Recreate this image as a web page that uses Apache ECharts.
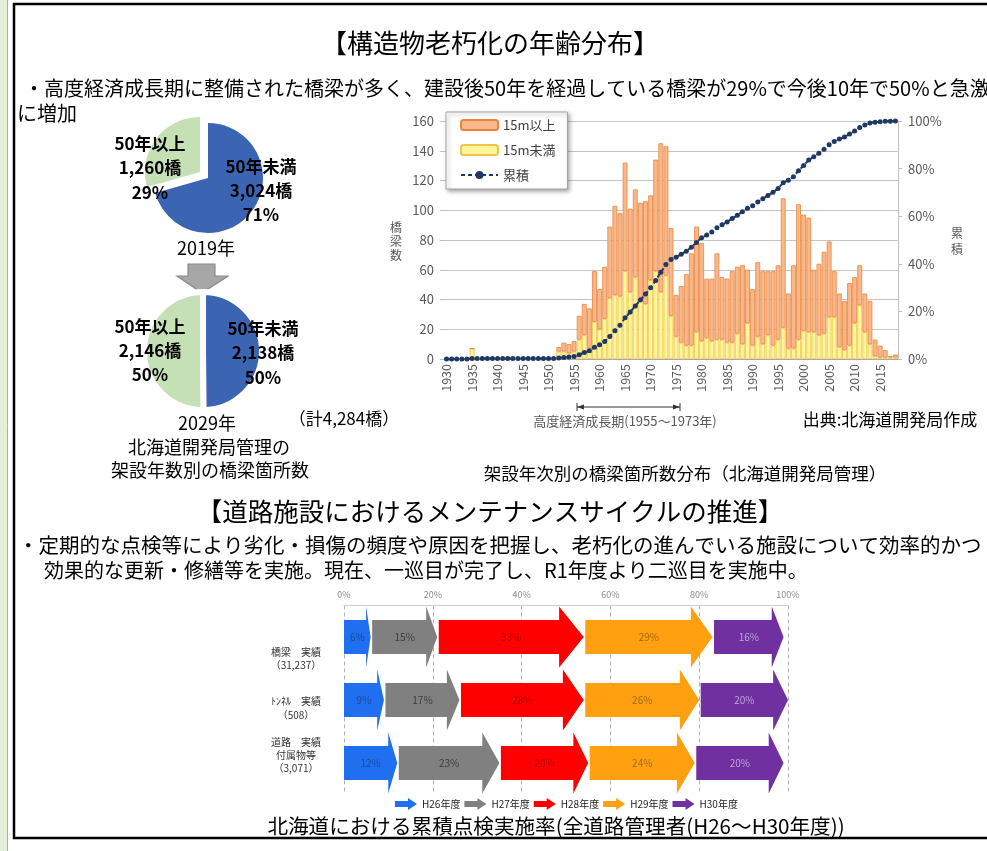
<!DOCTYPE html>
<html><head><meta charset="utf-8">
<script src="https://cdn.jsdelivr.net/npm/echarts@6/dist/echarts.min.js"></script>
<style>html,body{margin:0;padding:0;background:#fff}#c{width:987px;height:851px}</style>
</head><body><div id="c"></div><script>
// ---------- data: bridge construction years ----------
const years = ['1930','1931','1932','1933','1934','1935','1936','1937','1938','1939','1940','1941','1942','1943','1944','1945','1946','1947','1948','1949','1950','1951','1952','1953','1954','1955','1956','1957','1958','1959','1960','1961','1962','1963','1964','1965','1966','1967','1968','1969','1970','1971','1972','1973','1974','1975','1976','1977','1978','1979','1980','1981','1982','1983','1984','1985','1986','1987','1988','1989','1990','1991','1992','1993','1994','1995','1996','1997','1998','1999','2000','2001','2002','2003','2004','2005','2006','2007','2008','2009','2010','2011','2012','2013','2014','2015','2016','2017','2018'];
// 15m未満 (yellow)
const under15 = [0,0,0,0,0,7,0,0,0,0, 0,0,0,0,0,0,0,0,0,0, 0,0,5,5,4,5,13,16,7,25, 20,27,41,43,42,59,45,55,41,37, 53,59,45,56,29,15,11,9,9,18, 12,14,12,13,13,11,11,17,10,24, 9,15,10,16,9,13,21,7,7,13, 19,18,18,16,17,28,28,8,6,9, 24,36,18,10,2,1,1,1,1];
// 15m以上 (orange)
const over15 = [0,0,0,0,0,0,0,0,0,0, 0,0,0,0,0,0,0,0,0,0, 0,0,3,6,6,7,16,21,27,34, 27,35,48,60,56,73,56,59,64,69, 57,75,100,87,59,28,38,48,62,71, 66,40,42,58,42,43,48,45,53,36, 38,50,49,43,50,50,87,37,56,91, 78,77,42,48,55,51,31,36,33,42, 31,27,26,29,11,8,5,1,2];
// 累積 (%)
const cumulative = [0,0,0,0,0,0.2,0.2,0.2,0.2,0.2, 0.2,0.2,0.2,0.2,0.2,0.2,0.2,0.2,0.2,0.2, 0.2,0.2,0.4,0.6,0.8,1.1,1.8,2.7,3.5,4.9, 6.0,7.4,9.5,11.9,14.2,17.3,19.7,22.3,24.8,27.3, 29.9,33.0,36.4,39.7,41.8,42.8,44.0,45.3,47.0,49.0, 50.9,52.1,53.4,55.1,56.4,57.6,59.0,60.4,61.9,63.3, 64.4,66.0,67.3,68.7,70.1,71.6,74.1,75.1,76.6,79.1, 81.3,83.6,85.0,86.5,88.1,90.0,91.4,92.4,93.3,94.5, 95.8,97.3,98.3,99.2,99.5,99.7,99.9,99.9,100];

// ---------- data: pies ----------
const pieLabels = ['50年未満','50年以上'];
const pie2019Counts = [3024, 1260];
const pie2019Pct = [71, 29];
const pie2029Counts = [2138, 2146];
const pie2029Pct = [50, 50];
const totalBridges = 4284;

// ---------- data: inspection arrows ----------
const rowNames = ['橋梁', 'トンネル', '道路付属物等'];
const rowLabelLines = [['橋梁　実績','（31,237）'], ['ﾄﾝﾈﾙ　実績','（508）'], ['道路　実績','付属物等','（3,071）']];
const stageNames = ['H26年度','H27年度','H28年度','H29年度','H30年度'];
const stageValues = [
  [6, 9, 12],
  [15, 17, 23],
  [33, 28, 20],
  [29, 26, 24],
  [16, 20, 20]
];

// ---------- styling ----------
const FONT = '"Noto Sans CJK JP","Noto Sans",sans-serif';
const stageColors = ['#1f6ff0', '#808080', '#fe0000', '#ffa010', '#7030a0'];
const stageLabelColors = ['#1d4b9a', '#3c3c3c', '#b40000', '#a06a10', '#bba6d8'];
const pieBlue = '#3b65b3', pieGreen = '#c6e0b6';

function fmt(n){ return n.toLocaleString('en-US'); }

function T(text, x, y, size, opt) {
  opt = opt || {};
  return {
    type: 'text', x: x, y: y, z: 50, silent: true,
    style: {
      text: text, fill: opt.color || '#000',
      font: (opt.bold ? 'bold ' : '') + size + 'px ' + FONT,
      textAlign: opt.align || 'center', align: opt.align || 'center',
      textVerticalAlign: 'middle', verticalAlign: 'middle',
      lineHeight: opt.lh || size * 1.3
    }
  };
}

// arrow custom series
function arrowSeries(si) {
  const data = stageValues[si].map((v, r) => {
    let start = 0;
    for (let k = 0; k < si; k++) start += stageValues[k][r];
    return [r, start, start + v, v];
  });
  return {
    type: 'custom', name: stageNames[si], xAxisIndex: 1, yAxisIndex: 2,
    itemStyle: { color: stageColors[si] },
    encode: { x: [1, 2], y: 0 },
    silent: true,
    renderItem: function (params, api) {
      const r = api.value(0), s = api.value(1), e = api.value(2), v = api.value(3);
      const p0 = api.coord([s, r]), p1 = api.coord([e, r]);
      const band = api.size([0, 1])[1];
      const x0 = p0[0] + (si > 0 ? 1.5 : 0), x1 = p1[0], cy = p0[1];
      const head = (x1 - x0) * 0.17;
      const bh = band * 0.27, hh = band * 0.485;
      return {
        type: 'group',
        children: [
          { type: 'polygon', shape: { points: [[x0, cy - bh], [x1 - head, cy - bh], [x1 - head, cy - hh], [x1, cy], [x1 - head, cy + hh], [x1 - head, cy + bh], [x0, cy + bh]] },
            style: { fill: stageColors[si] } },
          { type: 'text', x: (x0 + x1) / 2, y: cy,
            style: { text: v + '%', fill: stageLabelColors[si], font: '10px ' + FONT, align: 'center', verticalAlign: 'middle', textAlign: 'center', textVerticalAlign: 'middle' } }
        ]
      };
    },
    data: data
  };
}

const graphics = [
  { type: 'rect', shape: { x: 0, y: 0, width: 7, height: 851 }, style: { fill: '#e3efd9' }, silent: true },
  { type: 'line', shape: { x1: 7.5, y1: 0, x2: 7.5, y2: 851 }, style: { stroke: '#9cc47f', lineWidth: 1 }, silent: true },
  { type: 'rect', shape: { x: 14, y: 4, width: 990, height: 834 }, style: { fill: 'none', stroke: '#000', lineWidth: 2.5 }, silent: true, z: 60 },
  T('【構造物老朽化の年齢分布】', 490, 43, 26),
  T('・高度経済成長期に整備された橋梁が多く、建設後50年を経過している橋梁が29%で今後10年で50%と急激', 24, 88, 20, { align: 'left' }),
  T('に増加', 17, 113, 20, { align: 'left' }),
  // pie labels 2019
  T(pieLabels[1] + '\n' + fmt(pie2019Counts[1]) + '橋\n' + pie2019Pct[1] + '%', 150, 168, 17, { bold: true, lh: 24.5 }),
  T(pieLabels[0] + '\n' + fmt(pie2019Counts[0]) + '橋\n' + pie2019Pct[0] + '%', 261, 191, 17, { bold: true, lh: 24 }),
  T('2019年', 206, 248, 18),
  { type: 'polygon', shape: { points: [[188, 264], [215, 264], [215, 276], [228, 276], [202, 293], [177, 276], [188, 276]] }, style: { fill: '#a6a6a6', stroke: '#8a8a8a', lineWidth: 1.2 }, silent: true },
  // pie labels 2029
  T(pieLabels[1] + '\n' + fmt(pie2029Counts[1]) + '橋\n' + pie2029Pct[1] + '%', 150, 351, 17, { bold: true, lh: 24 }),
  T(pieLabels[0] + '\n' + fmt(pie2029Counts[0]) + '橋\n' + pie2029Pct[0] + '%', 263, 353, 17, { bold: true, lh: 24.5 }),
  T('2029年', 207, 423, 18),
  T('（計' + fmt(totalBridges) + '橋）', 344, 419, 17),
  T('北海道開発局管理の', 209, 447, 18),
  T('架設年数別の橋梁箇所数', 210, 470, 18),
  // bar chart annotations
  T('橋\n梁\n数', 396, 241, 12, { color: '#595959', lh: 14 }),
  T('累\n積', 957, 241, 12, { color: '#595959', lh: 16 }),
  { type: 'line', shape: { x1: 577, y1: 407, x2: 680, y2: 407 }, style: { stroke: '#333', lineWidth: 1 }, silent: true },
  { type: 'line', shape: { x1: 577, y1: 403, x2: 577, y2: 411 }, style: { stroke: '#333', lineWidth: 1 }, silent: true },
  { type: 'line', shape: { x1: 680, y1: 403, x2: 680, y2: 411 }, style: { stroke: '#333', lineWidth: 1 }, silent: true },
  { type: 'polygon', shape: { points: [[577, 407], [584, 404.5], [584, 409.5]] }, style: { fill: '#333' }, silent: true },
  { type: 'polygon', shape: { points: [[680, 407], [673, 404.5], [673, 409.5]] }, style: { fill: '#333' }, silent: true },
  T('高度経済成長期(1955～1973年)', 625, 421, 13, { color: '#595959' }),
  T('出典:北海道開発局作成', 890, 420, 17),
  T('架設年次別の橋梁箇所数分布（北海道開発局管理）', 685, 473, 17.5),
  // second section
  T('【道路施設におけるメンテナンスサイクルの推進】', 490, 511, 25.5),
  T('・定期的な点検等により劣化・損傷の頻度や原因を把握し、老朽化の進んでいる施設について効率的かつ', 18, 545, 20.5, { align: 'left' }),
  T('効果的な更新・修繕等を実施。現在、一巡目が完了し、R1年度より二巡目を実施中。', 44, 570, 20, { align: 'left' }),
  T('北海道における累積点検実施率(全道路管理者(H26～H30年度))', 556, 826, 20.6)
];
// row labels of the arrow chart
const rowLabelPos = [[296, [652, 665]], [296, [701, 715]], [296, [742, 755, 768]]];
rowLabelLines.forEach((lines, i) => {
  lines.forEach((l, j) => graphics.push(T(l, rowLabelPos[i][0], rowLabelPos[i][1][j], 10, { color: '#333' })));
});

const chart = echarts.init(document.getElementById('c'), null, { renderer: 'canvas' });
const option = {
  animation: false,
  backgroundColor: '#fff',
  textStyle: { fontFamily: FONT },
  grid: [
    { left: 444, top: 121, width: 454, height: 238 },
    { left: 344, top: 605.5, width: 444, height: 189 }
  ],
  legend: [
    { data: ['15m以上', '15m未満', '累積'], orient: 'vertical', left: 446, top: 112,
      itemWidth: 37, itemHeight: 10, itemGap: 9, padding: [5, 12, 6, 14],
      backgroundColor: '#fff', borderColor: '#a6a6a6', borderWidth: 1,
      shadowBlur: 4, shadowColor: 'rgba(0,0,0,0.35)', shadowOffsetX: 2, shadowOffsetY: 2,
      textStyle: { fontSize: 13, color: '#404040', lineHeight: 16 }, selectedMode: false },
    { data: stageNames, left: 390, top: 793, itemWidth: 22, itemHeight: 12, itemGap: 4,
      icon: 'path://M0,3 L13,3 L13,0 L22,6 L13,12 L13,9 L0,9 Z',
      textStyle: { fontSize: 10, color: '#222' }, selectedMode: false }
  ],
  xAxis: [
    { type: 'category', gridIndex: 0, data: years,
      axisLine: { lineStyle: { color: '#a6a6a6' } },
      axisTick: { interval: 0, length: 3, lineStyle: { color: '#a6a6a6' } },
      axisLabel: { interval: 4, rotate: 90, fontSize: 12.5, color: '#595959', margin: 5 } },
    { type: 'value', gridIndex: 1, position: 'top', min: 0, max: 100, interval: 20,
      axisLine: { show: true, lineStyle: { color: '#d0d0d0' } }, axisTick: { show: false },
      axisLabel: { formatter: '{value}%', fontSize: 9, color: '#8c8c8c', margin: 6 },
      splitLine: { show: true, lineStyle: { color: '#b0b0b0', type: [4, 3] } } }
  ],
  yAxis: [
    { type: 'value', gridIndex: 0, min: 0, max: 160, interval: 20,
      axisLine: { show: false },
      axisTick: { show: true, length: 4, lineStyle: { color: '#bfbfbf' } },
      axisLabel: { fontSize: 13, color: '#595959', margin: 10 },
      splitLine: { lineStyle: { color: '#c4c4c4' } } },
    { type: 'value', gridIndex: 0, min: 0, max: 100, interval: 20, position: 'right',
      axisLine: { show: true, lineStyle: { color: '#bfbfbf' } },
      axisTick: { show: true, length: 4, lineStyle: { color: '#bfbfbf' } },
      axisLabel: { formatter: '{value}%', fontSize: 13, color: '#595959', margin: 10 },
      splitLine: { show: false } },
    { type: 'category', gridIndex: 1, data: rowNames, inverse: true,
      axisLine: { show: false }, axisTick: { show: false }, axisLabel: { show: false } }
  ],
  series: [
    { type: 'bar', name: '15m未満', stack: 'b', xAxisIndex: 0, yAxisIndex: 0, data: under15,
      barCategoryGap: '6%', silent: true,
      itemStyle: { color: '#fff59a', borderColor: '#efc44c', borderWidth: 0.8 } },
    { type: 'bar', name: '15m以上', stack: 'b', xAxisIndex: 0, yAxisIndex: 0, data: over15,
      barCategoryGap: '6%', silent: true,
      itemStyle: { color: '#f8b98a', borderColor: '#eb8440', borderWidth: 0.8 } },
    { type: 'line', name: '累積', xAxisIndex: 0, yAxisIndex: 1, data: cumulative,
      symbol: 'circle', symbolSize: 5, showSymbol: true, showAllSymbol: true, silent: true,
      lineStyle: { color: '#1f3864', width: 2, type: [4, 3] },
      itemStyle: { color: '#1f3864' } },
    arrowSeries(0), arrowSeries(1), arrowSeries(2), arrowSeries(3), arrowSeries(4),
    { type: 'pie', center: [208, 178], radius: 55, startAngle: 90, clockwise: true,
      selectedMode: 'single', selectedOffset: 10, silent: true,
      label: { show: false }, labelLine: { show: false },
      data: [
        { name: pieLabels[0], value: pie2019Counts[0], itemStyle: { color: pieBlue } },
        { name: pieLabels[1], value: pie2019Counts[1], selected: true, itemStyle: { color: pieGreen } }
      ] },
    { type: 'pie', center: [203, 351], radius: 59, startAngle: 90, clockwise: true, silent: true,
      label: { show: false }, labelLine: { show: false },
      itemStyle: { borderColor: '#fff', borderWidth: 6 },
      data: [
        { name: pieLabels[0], value: pie2029Counts[0], itemStyle: { color: pieBlue } },
        { name: pieLabels[1], value: pie2029Counts[1], itemStyle: { color: pieGreen } }
      ] }
  ],
  graphic: { elements: graphics }
};
chart.setOption(option);
</script></body></html>
